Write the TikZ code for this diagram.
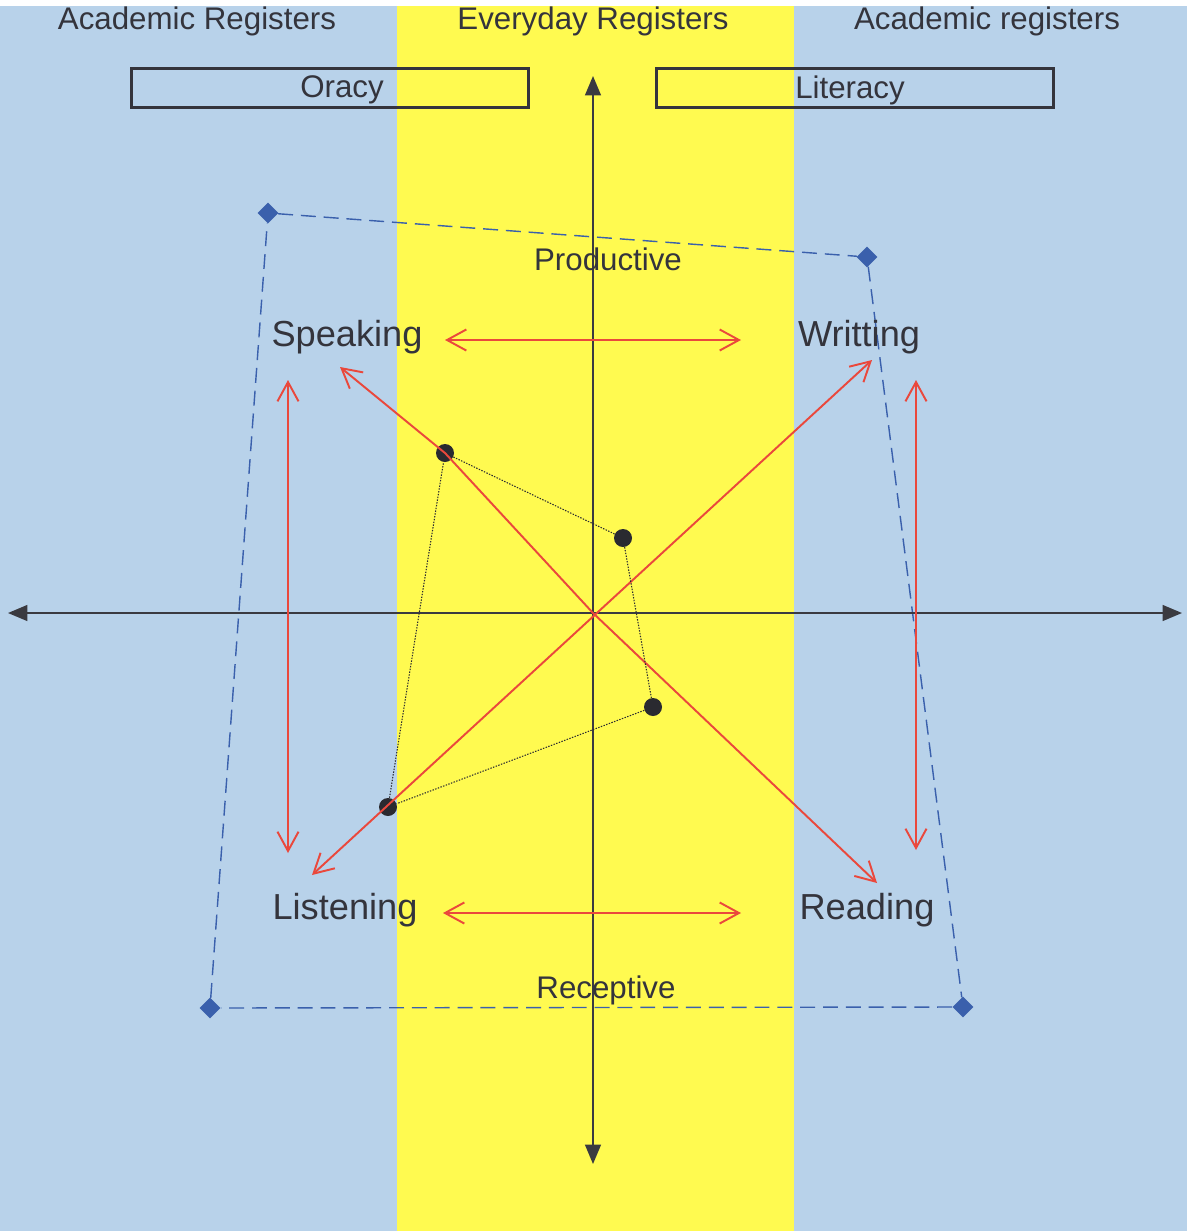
\documentclass[tikz,border=0pt]{standalone}
\usepackage{fontspec}
\setmainfont{Liberation Sans}
\usetikzlibrary{arrows.meta,shapes.geometric}
\definecolor{acadblue}{RGB}{184,210,234}
\definecolor{everyyellow}{RGB}{255,250,80}
\definecolor{textgray}{RGB}{52,52,60}
\definecolor{axisgray}{RGB}{58,58,64}
\definecolor{linkred}{RGB}{234,72,60}
\definecolor{cornerblue}{RGB}{58,96,172}
\definecolor{dotgray}{RGB}{42,42,48}
\begin{document}
\begin{tikzpicture}[x=0.02cm,y=-0.02cm,
  label/.style={text=textgray,font=\fontsize{17.8}{20}\selectfont,inner sep=1pt},
  skill/.style={text=textgray,font=\fontsize{20.6}{24}\selectfont,inner sep=1pt},
  regbox/.style={draw=textgray,line width=1.3pt,minimum width=7.94cm,minimum height=0.78cm,inner sep=0pt},
  axis/.style={draw=axisgray,line width=1pt,{Triangle[length=11pt,width=9pt]}-{Triangle[length=11pt,width=9pt]}},
  link/.style={draw=linkred,line width=1.1pt,{Straight Barb[length=11pt,width=12pt]}-{Straight Barb[length=11pt,width=12pt]}},
  corner/.style={diamond,fill=cornerblue,inner sep=0pt,minimum size=0.42cm},
  bound/.style={draw=cornerblue,line width=0.8pt,dash pattern=on 8.5pt off 4.5pt},
  score/.style={circle,fill=dotgray,inner sep=0pt,minimum size=0.36cm},
  profile/.style={draw=dotgray,line width=0.6pt,dash pattern=on 0.8pt off 0.8pt}]
% background bands
\useasboundingbox (0,0) rectangle (1196,1231);
\fill[white] (0,0) rectangle (1196,1231);
\fill[acadblue] (0,6) rectangle (1187,1231);
\fill[everyyellow] (397,6) rectangle (794,1231);
% register headings
\node[label] (acadleft) at (197,21) {Academic Registers};
\node[label] (everyday) at (593,21) {Everyday Registers};
\node[label] (acadright) at (987,21) {Academic registers};
\node[regbox] (oracy) at (330,88) {};
\node[regbox] (literacy) at (855,88) {};
\node[label] (oracytext) at (342,90) {Oracy};
\node[label] (literacytext) at (850,90) {Literacy};
% corners of the academic frame
\node[corner] (c1) at (268,213) {};
\node[corner] (c2) at (867,257) {};
\node[corner] (c3) at (963,1007) {};
\node[corner] (c4) at (210,1008) {};
\draw[bound] (c1) -- (c2) -- (c3) -- (c4) -- (c1);
% axes
\coordinate (west) at (8,613);
\coordinate (east) at (1182,613);
\coordinate (north) at (593,76);
\coordinate (south) at (593,1164);
\coordinate (origin) at (593,613);
\draw[axis] (west) -- (east);
\draw[axis] (north) -- (south);
% skills
\node[label] (productive) at (608,259) {Productive};
\node[label] (receptive) at (606,990) {Receptive};
\node[skill] (speaking) at (347,337) {Speaking};
\node[skill] (writting) at (859,337) {Writting};
\node[skill] (listening) at (345,910) {Listening};
\node[skill] (reading) at (867,910) {Reading};
% arrow tips
\coordinate (sp-h) at (445,340);
\coordinate (wr-h) at (741,340);
\coordinate (li-h) at (443,913);
\coordinate (re-h) at (741,913);
\coordinate (sp-v) at (288,380);
\coordinate (li-v) at (288,853);
\coordinate (wr-v) at (916,380);
\coordinate (re-v) at (916,850);
\coordinate (sp-d) at (340,367);
\coordinate (re-d) at (877,883);
\coordinate (li-d) at (312,875);
\coordinate (wr-d) at (872,360);
% learner profile
\node[score] (d1) at (445,453) {};
\node[score] (d2) at (623,538) {};
\node[score] (d3) at (653,707) {};
\node[score] (d4) at (388,807) {};
\draw[link] (sp-h) -- (wr-h);
\draw[link] (li-h) -- (re-h);
\draw[link] (sp-v) -- (li-v);
\draw[link] (wr-v) -- (re-v);
\draw[link] (sp-d) -- (d1.center) -- (origin) -- (re-d);
\draw[link] (li-d) -- (wr-d);
\draw[profile] (d1) -- (d2) -- (d3) -- (d4) -- (d1);
\end{tikzpicture}
\end{document}
